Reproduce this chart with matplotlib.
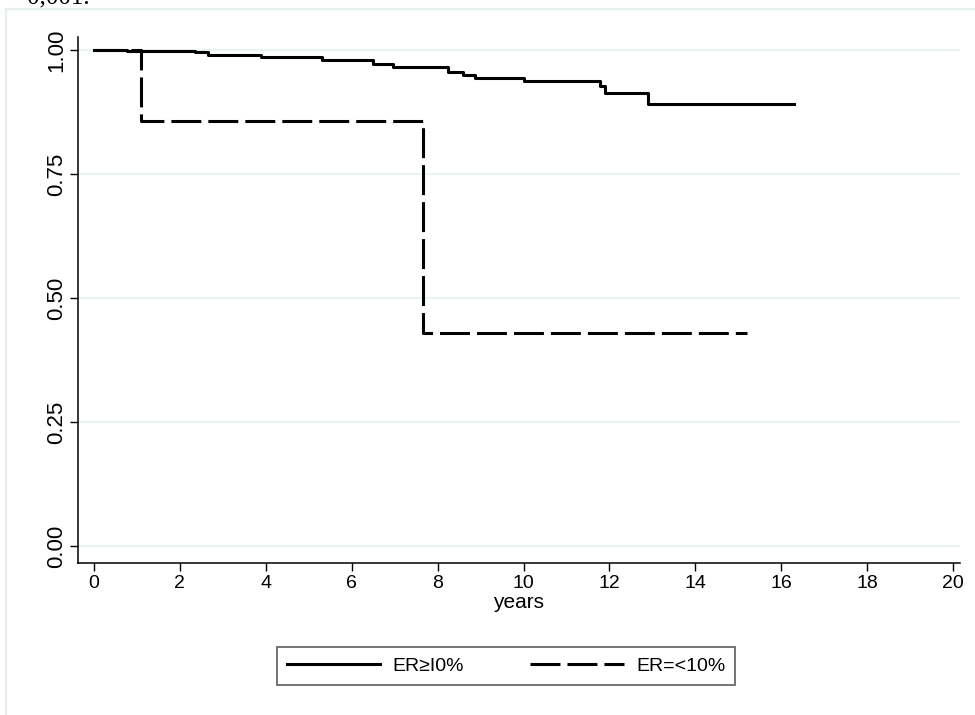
import numpy as np
import matplotlib
matplotlib.use('Agg')
import matplotlib.pyplot as plt
from matplotlib.patches import Rectangle

plt.rcParams['font.family'] = ['Liberation Sans', 'DejaVu Sans']

# Kaplan-Meier steps
t_hi = [0, 0.77, 2.35, 2.65, 3.9, 5.3, 6.5, 6.96, 8.24, 8.6, 8.87, 10.0, 11.78, 11.9, 12.9, 16.3]
s_hi = [1.0, 0.998, 0.995, 0.989, 0.985, 0.979, 0.972, 0.965, 0.956, 0.950, 0.944, 0.937, 0.927, 0.914, 0.890, 0.890]

t_lo = [0, 1.1, 7.65, 15.2]
s_lo = [1.0, 0.857, 0.429, 0.429]

labels = ['ER\u2265I0%', 'ER=<10%']
xticks = np.arange(0, 21, 2)
yticks = [0, 0.25, 0.5, 0.75, 1.0]
ytlabels = ['0.00', '0.25', '0.50', '0.75', '1.00']

fig = plt.figure(figsize=(9.75, 7.15), dpi=100)
ax = fig.add_axes([78/975, 152/715, (960-78)/975, (678-152)/715])

lw = 2.2
ax.step(t_hi, s_hi, where='post', color='black', lw=lw, label=labels[0])
ax.step(t_lo, s_lo, where='post', color='black', lw=lw, dashes=(9.8, 2.3), label=labels[1])

ax.set_xlim(-0.37, 20.16)
ax.set_ylim(-0.034, 1.026)
ax.set_xticks(xticks)
ax.set_xticklabels([str(v) for v in xticks], fontsize=14)
ax.set_yticks(yticks)
ax.set_yticklabels(ytlabels, rotation=90, va='center', fontsize=16)
ax.tick_params(length=6, width=1, color='black')
ax.tick_params(axis='y', pad=2)
ax.tick_params(axis='x', pad=3)
for sp in ['top', 'right']:
    ax.spines[sp].set_visible(False)
for sp in ['left', 'bottom']:
    ax.spines[sp].set_linewidth(1.1)
ax.yaxis.grid(True, color='#e8f0f0', lw=1.2)
ax.set_axisbelow(True)
ax.set_xlabel('years', fontsize=15, labelpad=0)

leg = fig.legend(loc='center', bbox_to_anchor=(506/975, 1 - 666/715), ncol=2,
                 fontsize=14, handlelength=4.8, handletextpad=0.65, columnspacing=3.4,
                 borderpad=0.5, fancybox=False, frameon=True)
leg.get_frame().set_edgecolor('#444444')
leg.get_frame().set_linewidth(1.3)

# outer graph region frame
fig.patches.append(Rectangle((6/975, -0.1), 1.2, 1 - 9/715 + 0.1, transform=fig.transFigure,
                             fill=False, edgecolor='#e6eeee', lw=1.6))

# cut-off text line from the document above the figure
fig.text(27/975, 1 - 3/715, '0,001.', fontsize=18, family='Liberation Serif', va='baseline')

fig.savefig('out.png', dpi=100)
